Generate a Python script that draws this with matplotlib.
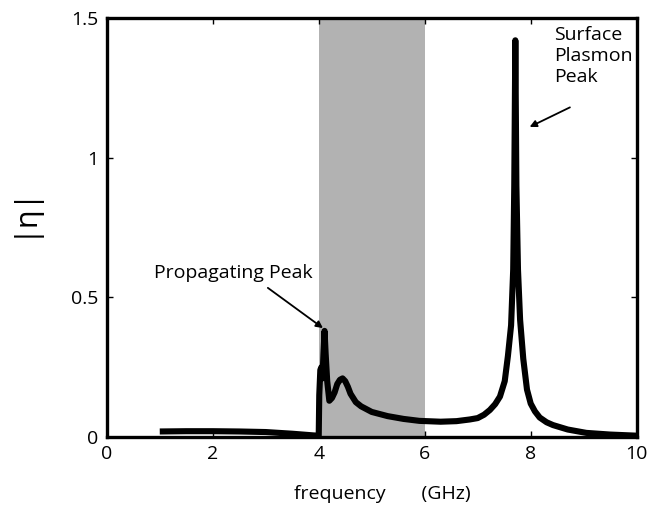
import matplotlib
matplotlib.use('Agg')
import matplotlib.pyplot as plt

# curve |eta| vs frequency
freq = [1.0, 1.5, 2.0, 2.5, 3.0, 3.5, 3.9, 4.0, 4.01, 4.03, 4.05, 4.07,
        4.09, 4.11, 4.13, 4.16, 4.2, 4.25, 4.3, 4.35, 4.4, 4.45, 4.5,
        4.55, 4.6, 4.7, 4.8, 5.0, 5.3, 5.6, 5.9, 6.3, 6.6, 6.85, 7.0,
        7.12, 7.23, 7.33, 7.42, 7.51, 7.57, 7.63, 7.67, 7.69, 7.71, 7.73,
        7.76, 7.8, 7.86, 7.93, 8.0, 8.08, 8.17, 8.3, 8.42, 8.7, 9.05,
        9.5, 10.0]
eta = [0.020, 0.021, 0.021, 0.020, 0.018, 0.012, 0.006, 0.005, 0.15,
       0.24, 0.25, 0.21, 0.30, 0.38, 0.30, 0.20, 0.13, 0.14, 0.16,
       0.19, 0.205, 0.21, 0.20, 0.18, 0.155, 0.125, 0.11, 0.09, 0.075,
       0.065, 0.058, 0.055, 0.057, 0.063, 0.068, 0.08, 0.097, 0.118,
       0.145, 0.20, 0.29, 0.40, 0.60, 0.90, 1.42, 0.90, 0.60, 0.42,
       0.28, 0.17, 0.12, 0.092, 0.07, 0.053, 0.043, 0.027, 0.015, 0.009,
       0.005]

band = (4, 6)
xticks = [0, 2, 4, 6, 8, 10]
yticks = [0, 0.5, 1, 1.5]
ytick_labels = ['0', '0.5', '1', '1.5']

plt.rcParams['font.family'] = ['Open Sans', 'DejaVu Sans']

fig = plt.figure(figsize=(6.51, 5.13), dpi=100)
ax = fig.add_axes([0.164, 0.148, 0.814, 0.817])

ax.axvspan(*band, color='#b2b2b2', lw=0, zorder=0)
ax.plot(freq, eta, color='black', lw=4.4, solid_capstyle='butt',
        solid_joinstyle='round', zorder=2)

ax.set_xlim(0, 10)
ax.set_ylim(0, 1.5)
ax.set_xticks(xticks)
ax.set_yticks(yticks)
ax.set_yticklabels(ytick_labels)
ax.tick_params(direction='in', length=4, width=1, labelsize=14,
               top=True, right=True, pad=6)
for s in ax.spines.values():
    s.set_linewidth(2.4)

ax.set_xlabel('frequency       (GHz)', fontsize=14)
ax.xaxis.set_label_coords(0.52, -0.115)
ax.set_ylabel('|η|', fontsize=22)
ax.yaxis.set_label_coords(-0.13, 0.54)

ax.text(0.9, 0.587, 'Propagating Peak', fontsize=14, va='center', ha='left')
ax.annotate('', xy=(4.08, 0.39), xytext=(3.04, 0.534),
            arrowprops=dict(arrowstyle='-|>', color='black', lw=1.3,
                            shrinkA=0, shrinkB=0))
ax.text(8.45, 1.47, 'Surface\nPlasmon\nPeak', fontsize=14,
        va='top', ha='left', linespacing=1.2)
ax.annotate('', xy=(7.98, 1.11), xytext=(8.74, 1.18),
            arrowprops=dict(arrowstyle='-|>', color='black', lw=1.3,
                            shrinkA=0, shrinkB=0))

fig.savefig('out.png', dpi=100)
